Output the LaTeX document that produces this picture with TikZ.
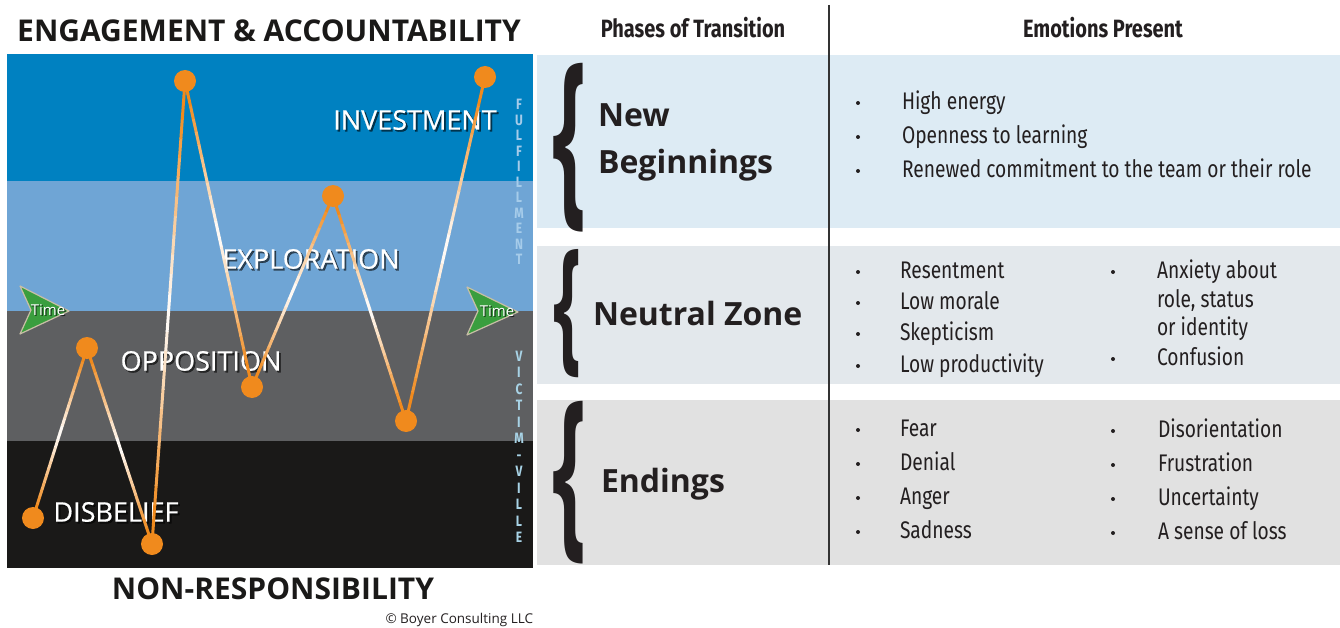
\documentclass[tikz,border=0pt]{standalone}
\usepackage{fontspec}
\setmainfont{Open Sans}
\newfontfamily\condfont[FakeStretch=0.8]{Fira Sans}
\newfontfamily\labelfont[FakeBold=0.6]{Open Sans}
\usetikzlibrary{calc}

\definecolor{bandA}{HTML}{0081C1}
\definecolor{bandB}{HTML}{6FA5D5}
\definecolor{bandC}{HTML}{5E5F61}
\definecolor{bandD}{HTML}{1A1918}
\definecolor{dotorange}{HTML}{F08A1D}
\definecolor{rowA}{HTML}{DDEBF4}
\definecolor{rowB}{HTML}{E3E8EC}
\definecolor{rowC}{HTML}{E1E1E1}
\definecolor{ink}{HTML}{231F20}
\definecolor{divider}{HTML}{333333}
\definecolor{timegreen}{HTML}{3A9E3E}
\definecolor{timeedge}{HTML}{C8BFA6}
\definecolor{fulfil}{HTML}{A6CCEA}
\definecolor{victim}{HTML}{A8D3E6}

\tikzset{
  txt/.style={inner sep=0pt, outer sep=0pt},
  heading/.style={txt, text=ink, font=\condfont\bfseries\fontsize{25}{25}\selectfont},
  phase/.style={txt, anchor=base west, text=ink, font=\bfseries\fontsize{32}{32}\selectfont},
  emo/.style={txt, anchor=base west, text=ink, font=\condfont\fontsize{24}{28}\selectfont},
  bul/.style={circle, fill=ink, inner sep=0pt, minimum size=4pt},
  bandtext/.style={txt, text=white, font=\labelfont\fontsize{27}{27}\selectfont},
  bandshadow/.style={txt, text=black, opacity=0.6, font=\labelfont\fontsize{27}{27}\selectfont},
  dot/.style={circle, fill=dotorange, inner sep=0pt, minimum size=22pt},
  timetext/.style={txt, text=white, font=\fontsize{15}{15}\selectfont},
  timeshadow/.style={txt, text=black, opacity=0.7, font=\fontsize{15}{15}\selectfont},
  vletters/.style={txt, align=center},
  bigtitle/.style={txt, text=bandD, font=\bfseries\fontsize{30}{30}\selectfont},
}

\begin{document}
\begin{tikzpicture}[x=1pt, y=-1pt]
\useasboundingbox (0,0) rectangle (1340,628);

% ---- chart bands ----
\fill[bandA] (7,54)  rectangle (533,181);
\fill[bandB] (7,181) rectangle (533,311);
\fill[bandC] (7,311) rectangle (533,441);
\fill[bandD] (7,441) rectangle (533,568);

% ---- titles above and below ----
\node[bigtitle] (top) at (269,31) {ENGAGEMENT \& ACCOUNTABILITY};
\node[bigtitle] (bottom) at (273,589) {NON-RESPONSIBILITY};
\node[txt, anchor=east, text=ink, font=\fontsize{13.5}{13.5}\selectfont] (copy) at (533,620) {© Boyer Consulting LLC};

% ---- side letters ----
\node[vletters, text=fulfil, font=\condfont\bfseries\fontsize{15}{15.5}\selectfont] (ful) at (519,182) {F\\U\\L\\F\\I\\L\\L\\M\\E\\N\\T};
\node[vletters, text=victim, font=\condfont\bfseries\fontsize{15}{16.5}\selectfont] (vic) at (519,447) {V\\I\\C\\T\\I\\M\\-\\V\\I\\L\\L\\E};

% ---- band labels ----
\foreach \nm/\x/\y/\lbl in {inv/415/120/INVESTMENT, expl/311/259/EXPLORATION, opp/201/361/OPPOSITION, dis/116/512/DISBELIEF}{
  \node[bandshadow] (\nm s) at (\x+1.8,\y+1.8) {\lbl};
  \node[bandtext] (\nm) at (\x,\y) {\lbl};
}

% ---- time arrows ----
\fill[timegreen, draw=timeedge, line width=1.2pt, line join=round]
  (20,286) -- (69,311) -- (20,334) -- (31,310) -- cycle;
\fill[timegreen, draw=timeedge, line width=1.2pt, line join=round]
  (467,287) -- (518,312) -- (467,335) -- (478,311) -- cycle;
\node[timeshadow] (t1s) at (49.2,311.2) {Time};
\node[timetext] (t1) at (48,310) {Time};
\node[timeshadow] (t2s) at (498.2,312.2) {Time};
\node[timetext] (t2) at (497,311) {Time};

% ---- path of the curve ----
\coordinate (p1) at (33,518);
\coordinate (p2) at (87,348);
\coordinate (p3) at (152,544);
\coordinate (p4) at (185,81);
\coordinate (p5) at (252,387);
\coordinate (p6) at (333,196);
\coordinate (p7) at (406,421);
\coordinate (p8) at (485,77);

% each leg fades from orange at its ends to white in the middle
\foreach \a/\b in {p1/p2, p2/p3, p3/p4, p4/p5, p5/p6, p6/p7, p7/p8}{
  \foreach \i in {0,...,23}{
    \pgfmathsetmacro\t{\i/24}
    \pgfmathsetmacro\u{(\i+1.05)/24}
    \pgfmathsetmacro\m{min(100,115*abs(2*(\i+0.5)/24-1))}
    \draw[line width=3pt, color=dotorange!\m!white] ($(\a)!\t!(\b)$) -- ($(\a)!\u!(\b)$);
  }
}
\foreach \k in {1,...,8}{
  \node[dot] (d\k) at (p\k) {};
}

% ---- table ----
\fill[rowA] (537,55)  rectangle (1340,228);
\fill[rowB] (537,246) rectangle (1340,384);
\fill[rowC] (537,400) rectangle (1340,565);
\draw[divider, line width=2.5pt] (829,5) -- (829,565);

\node[heading] (h1) at (693,28) {Phases of Transition};
\node[heading] (h2) at (1103,28) {Emotions Present};

% braces
\node[txt, text=ink] (br1) at (570,148) {\resizebox{34pt}{138pt}{\bfseries\{}};
\node[txt, text=ink] (br2) at (567,314) {\resizebox{28pt}{105pt}{\bfseries\{}};
\node[txt, text=ink] (br3) at (570,483) {\resizebox{34pt}{133pt}{\bfseries\{}};

\node[phase] (ph1a) at (598,127) {New};
\node[phase] (ph1b) at (598,174) {Beginnings};
\node[phase] (ph2) at (593,325) {Neutral Zone};
\node[phase] (ph3) at (601,492) {Endings};

% emotions, first row
\foreach \txt/\y [count=\k] in {High energy/110, Openness to learning/144, Renewed commitment to the team or their role/178}{
  \node[bul] (ba\k) at (858,\y-7) {};
  \node[emo] (ea\k) at (902,\y) {\txt};
}
% second row
\foreach \txt/\y [count=\k] in {Resentment/278, Low morale/309, Skepticism/340, Low productivity/372}{
  \node[bul] (bb\k) at (858,\y-6) {};
  \node[emo] (eb\k) at (900,\y) {\txt};
}
\node[emo] (ec1) at (1157,278) {Anxiety about};
\node[emo] (ec2) at (1157,307) {role, status};
\node[emo] (ec3) at (1157,335) {or identity};
\node[emo] (ec4) at (1157,365) {Confusion};
\node[bul] (bc1) at (1113,272) {};
\node[bul] (bc4) at (1113,359) {};
% third row
\foreach \txt/\y [count=\k] in {Fear/436, Denial/470, Anger/504, Sadness/538}{
  \node[bul] (bd\k) at (858,\y-6) {};
  \node[emo] (ed\k) at (900,\y) {\txt};
}
\foreach \txt/\y [count=\k] in {Disorientation/437, Frustration/471, Uncertainty/505, A sense of loss/539}{
  \node[bul] (be\k) at (1113,\y-6) {};
  \node[emo] (ee\k) at (1158,\y) {\txt};
}
\end{tikzpicture}
\end{document}
